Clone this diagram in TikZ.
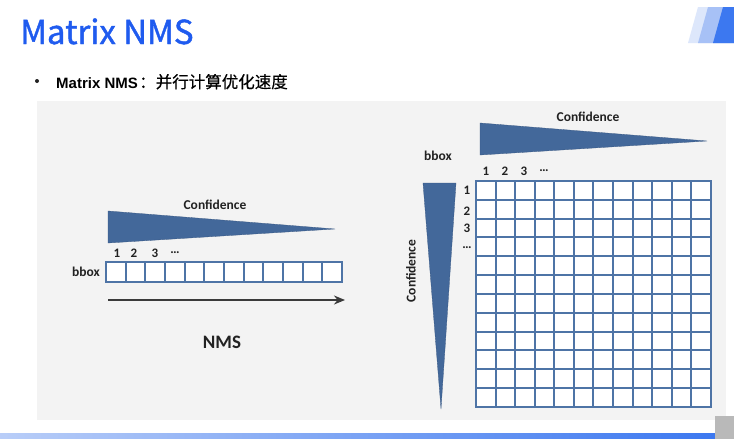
\documentclass[tikz,border=0pt]{standalone}
\usepackage{fontspec}
\setmainfont{Carlito}
\newfontfamily\cjk[FakeBold=0.5]{Noto Sans CJK SC}
\newfontfamily\cjktitle[FakeBold=1.3]{Noto Sans CJK SC}
\newfontfamily\arialish{Liberation Sans}
\usepackage{tikz}
\usetikzlibrary{arrows.meta,positioning,calc}
\definecolor{cTitle}{HTML}{1F5BEF}
\definecolor{cPanel}{HTML}{F3F3F3}
\definecolor{cWedge}{HTML}{43689A}
\definecolor{cCell}{HTML}{4E74A6}
\definecolor{cText}{HTML}{222222}
\definecolor{cArrow}{HTML}{3A3A3A}
\definecolor{cLogoA}{HTML}{DDE7FB}
\definecolor{cLogoB}{HTML}{A7C1F6}
\definecolor{cLogoC}{HTML}{3C78F0}
\tikzset{
  lbl/.style    = {font=\fontsize{13.5}{13.5}\selectfont\bfseries, text=cText, inner sep=1pt},
  num/.style    = {lbl, font=\fontsize{13}{13}\selectfont\bfseries},
  wedge/.style  = {fill=cWedge, draw=cWedge!85!black, line width=0.3pt},
  cell/.style   = {draw=cCell, fill=white!97!cPanel, line width=2pt},
  flow/.style   = {-{Stealth[length=11pt,width=9pt]}, draw=cArrow, line width=2.8pt},
}

\begin{document}
\begin{tikzpicture}[x=1pt,y=-1pt]
  \useasboundingbox (0,0) rectangle (734,439);
  \fill[white] (0,0) rectangle (734,439);

  % header
  \node[anchor=base west, inner sep=0, text=cTitle, font=\cjktitle\fontsize{33}{33}\selectfont] (title) at (20,44) {Matrix NMS};
  \node[circle, fill=cText, inner sep=0, minimum size=4pt] (dot) at (37,81) {};
  \node[anchor=base west, inner sep=0, text=black, font=\arialish\fontsize{15}{15}\selectfont\bfseries] (sub) at (56,88) {Matrix NMS};
  \node[inner sep=0, text=black, font=\cjk\fontsize{16.5}{16.5}\selectfont, right=1pt of sub.base east, anchor=base west] (subcn) {：并行计算优化速度};
  \fill[cLogoA] (688,43) -- (698,7) -- (734,7) -- (734,43) -- cycle;
  \fill[cLogoB] (698,43) -- (708,7) -- (734,7) -- (734,43) -- cycle;
  \fill[cLogoC] (713,43) -- (723,7) -- (734,7) -- (734,43) -- cycle;

  % panel
  \fill[cPanel] (37,101) rectangle (726,420);

  % left: plain NMS
  \node[lbl] (confL) at (215,205) {Confidence};
  \fill[wedge] (108,211) -- (335,229) -- (108,243) -- cycle;
  \foreach \t/\xx in {1/117,2/134,3/155,\dots/175}
    \node[num] at (\xx,253) {\t};
  \node[lbl, anchor=east] (bboxL) at (101,272) {bbox};
  \foreach \i in {0,...,11}
    \draw[cell] (106+\i*19.67,262) rectangle ++(19.67,20);
  \coordinate (arrS) at (108,300);
  \coordinate (arrE) at (345,300);
  \draw[flow] (arrS) -- (arrE);
  \node[lbl, font=\fontsize{19}{19}\selectfont\bfseries] (nms) at (222,342) {NMS};

  % right: Matrix NMS
  \node[lbl] (confT) at (588,117) {Confidence};
  \fill[wedge] (480,123) -- (707,141) -- (480,155) -- cycle;
  \node[lbl] (bboxR) at (438,156) {bbox};
  \foreach \t/\xx in {1/486,2/505,3/524,\dots/544}
    \node[num] at (\xx,171) {\t};
  \foreach \t/\yy in {1/190,2/211,3/228,\dots/248}
    \node[num] at (467,\yy) {\t};
  \fill[wedge] (423,183) -- (456,183) -- (441,409) -- cycle;
  \node[lbl, rotate=90] (confV) at (411,271) {Confidence};
  \foreach \i in {0,...,11}
    \foreach \j in {0,...,11}
      \draw[cell] (476+\i*19.58,181+\j*18.83) rectangle ++(19.58,18.83);

  % footer
  \shade[left color=cLogoB!80!white, right color=cLogoC] (0,433) rectangle (715,439);
  \fill[gray!55] (715,416) rectangle (734,439);
\end{tikzpicture}
\end{document}
